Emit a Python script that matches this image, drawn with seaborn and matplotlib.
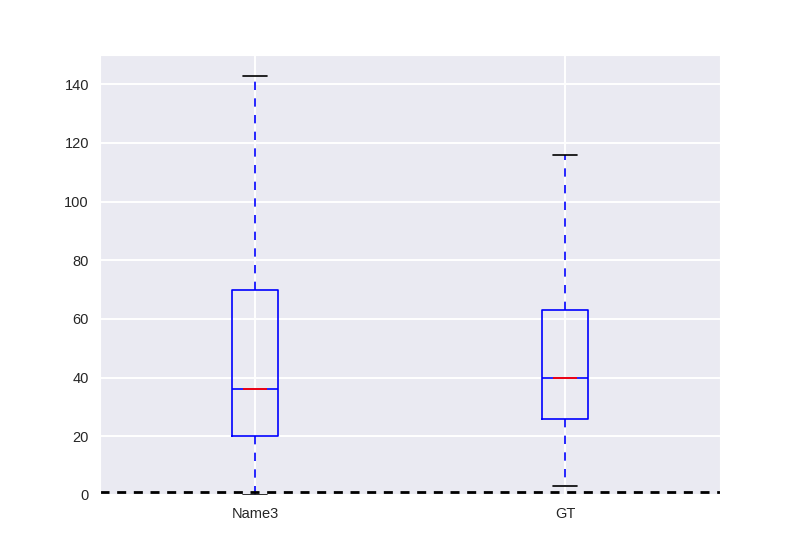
import matplotlib
matplotlib.use('Agg')
import matplotlib.pyplot as plt
import seaborn as sns

# five-number summaries
labels = ['Name3', 'GT']
whislo = [0, 3]
q1 = [20, 26]
med = [36, 40]
q3 = [70, 63]
whishi = [143, 116]
ref_level = 1

sns.set_style('darkgrid', {'grid.linewidth': 1.4})
plt.rcParams['font.family'] = ['Liberation Sans', 'DejaVu Sans']
plt.rcParams['lines.scale_dashes'] = False

stats = []
for i, lab in enumerate(labels):
    stats.append({'label': lab, 'whislo': whislo[i], 'q1': q1[i], 'med': med[i],
                  'q3': q3[i], 'whishi': whishi[i], 'fliers': []})

fig = plt.figure(figsize=(8, 5.5), dpi=100)
ax = fig.add_axes([0.125, 0.1, 0.775, 0.8])
ax.grid(True, linewidth=1.4)

ax.bxp(stats, widths=0.15, showfliers=False,
       boxprops=dict(color='blue', linewidth=1.2),
       whiskerprops=dict(color='blue', linewidth=1.2, linestyle=(0, (6, 6))),
       capprops=dict(color='black', linewidth=1.2),
       medianprops=dict(color='blue', linewidth=1.2))
# red median drawn narrower on top
ax.bxp(stats, widths=0.08, showfliers=False, showbox=False, showcaps=False,
       whiskerprops=dict(visible=False),
       medianprops=dict(color='red', linewidth=1.3))

ax.axhline(ref_level, color='black', linewidth=2, linestyle=(0, (6.5, 5.5)))

ax.set_xlim(0.5, 2.5)
ax.set_ylim(0, 150)
ax.set_xticks([1, 2])
ax.set_xticklabels(labels)
ax.tick_params(labelsize=10.5, length=0, colors='#262626')
ax.tick_params(axis='x', pad=9)
ax.tick_params(axis='y', pad=8)

fig.savefig('out.png', dpi=100)
